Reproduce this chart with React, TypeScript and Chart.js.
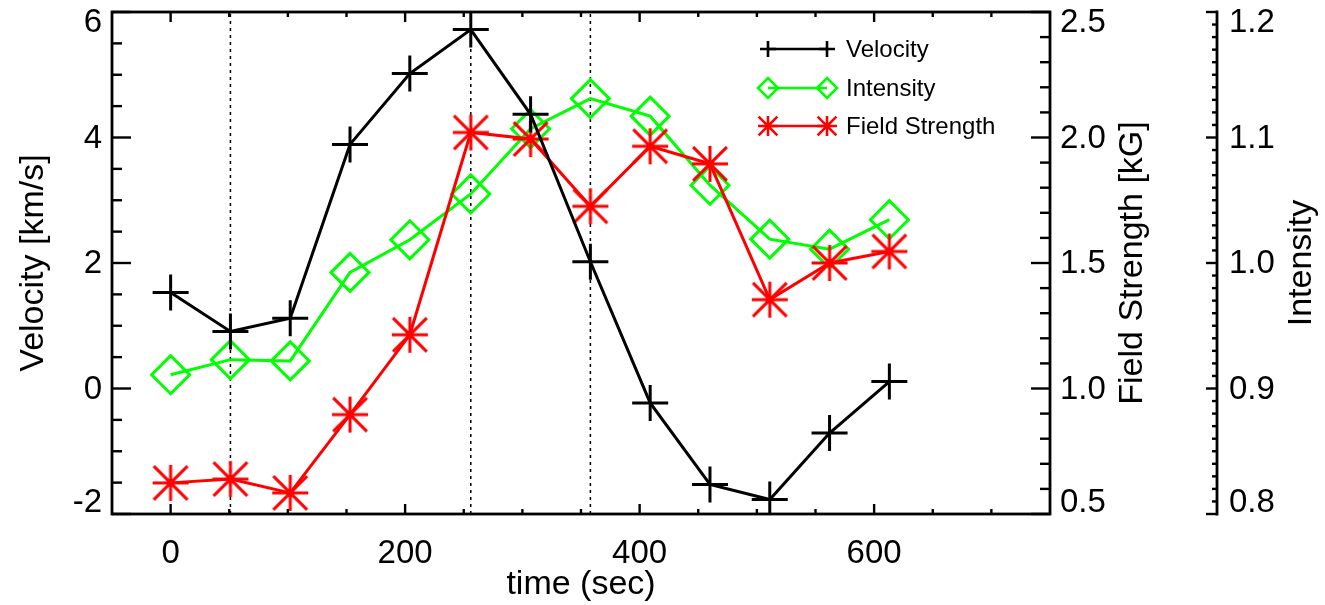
import React, { useEffect, useRef } from 'react';
import { Chart, registerables } from 'chart.js';

Chart.register(...registerables);

// ---------------- data ----------------
const times = [0, 51, 102, 153, 204, 256, 307, 358, 409, 460, 511, 562, 613];
const velocity = [1.53, 0.91, 1.12, 3.89, 5.02, 5.72, 4.37, 2.02, -0.23, -1.53, -1.77, -0.71, 0.11];
const intensity = [0.911, 0.923, 0.922, 0.9925, 1.0185, 1.055, 1.107, 1.131, 1.117, 1.062, 1.019, 1.011, 1.0345];
const fieldStrength = [0.624, 0.639, 0.584, 0.896, 1.214, 2.02, 1.994, 1.726, 1.965, 1.895, 1.354, 1.5, 1.546];
const markerTimes = [51, 256, 358];

// ---------------- ticks ----------------
const xTickLabels = [0, 200, 400, 600];
const xMinorTicks = [0, 50, 100, 150, 200, 250, 300, 350, 400, 450, 500, 550, 600, 650, 700];
const velocityTickLabels = [-2, 0, 2, 4, 6];
const velocityMinorTicks = [-1.5, -1, -0.5, 0.5, 1, 1.5, 2.5, 3, 3.5, 4.5, 5, 5.5];
const fieldTickLabels = [0.5, 1.0, 1.5, 2.0, 2.5];
const fieldMinorTicks = [0.6, 0.7, 0.8, 0.9, 1.1, 1.2, 1.3, 1.4, 1.6, 1.7, 1.8, 1.9, 2.1, 2.2, 2.3, 2.4];
const intensityTickLabels = [0.8, 0.9, 1.0, 1.1, 1.2];
const intensityMinorTicks = [
  0.81, 0.82, 0.83, 0.84, 0.85, 0.86, 0.87, 0.88, 0.89,
  0.91, 0.92, 0.93, 0.94, 0.95, 0.96, 0.97, 0.98, 0.99,
  1.01, 1.02, 1.03, 1.04, 1.05, 1.06, 1.07, 1.08, 1.09,
  1.11, 1.12, 1.13, 1.14, 1.15, 1.16, 1.17, 1.18, 1.19,
];

const legendItems = [
  { label: 'Velocity', color: '#000000', marker: 'cross' },
  { label: 'Intensity', color: '#00ff00', marker: 'diamond' },
  { label: 'Field Strength', color: '#ff0000', marker: 'asterisk' },
];

const FONT = "'Liberation Sans', Arial, Helvetica, sans-serif";
const RED = '#ff0000';
const GREEN = '#00ff00';
const BLACK = '#000000';
const LW = 3;

function drawAsterisk(ctx: CanvasRenderingContext2D, x: number, y: number, r: number, color: string, lw: number) {
  const d = r * 0.94;
  ctx.save();
  ctx.strokeStyle = color;
  ctx.lineWidth = lw;
  ctx.beginPath();
  ctx.moveTo(x - r, y); ctx.lineTo(x + r, y);
  ctx.moveTo(x, y - r); ctx.lineTo(x, y + r);
  ctx.moveTo(x - d, y - d); ctx.lineTo(x + d, y + d);
  ctx.moveTo(x + d, y - d); ctx.lineTo(x - d, y + d);
  ctx.stroke();
  ctx.restore();
}
function drawCross(ctx: CanvasRenderingContext2D, x: number, y: number, r: number, color: string, lw: number) {
  ctx.save();
  ctx.strokeStyle = color;
  ctx.lineWidth = lw;
  ctx.beginPath();
  ctx.moveTo(x - r, y); ctx.lineTo(x + r, y);
  ctx.moveTo(x, y - r); ctx.lineTo(x, y + r);
  ctx.stroke();
  ctx.restore();
}
function drawDiamond(ctx: CanvasRenderingContext2D, x: number, y: number, r: number, color: string, lw: number) {
  ctx.save();
  ctx.strokeStyle = color;
  ctx.lineWidth = lw;
  ctx.beginPath();
  ctx.moveTo(x - r, y); ctx.lineTo(x, y - r); ctx.lineTo(x + r, y); ctx.lineTo(x, y + r);
  ctx.closePath();
  ctx.stroke();
  ctx.restore();
}

function makeAsteriskImage(): HTMLCanvasElement {
  const c = document.createElement('canvas');
  c.width = 40; c.height = 40;
  const ctx = c.getContext('2d')!;
  drawAsterisk(ctx, 20, 20, 18, RED, LW);
  return c;
}

const idlAxesPlugin = {
  id: 'idlAxes',
  afterDraw(chart: any) {
    const ctx: CanvasRenderingContext2D = chart.ctx;
    const { left, right, top, bottom } = chart.chartArea;
    const xs = chart.scales.x;
    const ys = chart.scales.y;
    const fs = chart.scales.yFS;
    const is = chart.scales.yI;
    const line = (x1: number, y1: number, x2: number, y2: number) => {
      ctx.beginPath(); ctx.moveTo(x1, y1); ctx.lineTo(x2, y2); ctx.stroke();
    };
    ctx.save();
    ctx.strokeStyle = BLACK;
    ctx.lineWidth = 2.8;
    ctx.strokeRect(left, top, right - left, bottom - top);
    // intensity axis line
    line(is.left, top - 1.4, is.left, bottom + 1.4);

    ctx.lineWidth = 2.4;
    // x ticks bottom & top
    xMinorTicks.forEach((v) => {
      const px = xs.getPixelForValue(v);
      const len = xTickLabels.includes(v) ? 10 : 5;
      line(px, bottom, px, bottom - len);
      line(px, top, px, top + len);
    });
    // velocity ticks (left)
    [...velocityTickLabels, ...velocityMinorTicks].forEach((v) => {
      const py = ys.getPixelForValue(v);
      const len = velocityTickLabels.includes(v) ? 19 : 10;
      line(left, py, left + len, py);
    });
    // field strength ticks (right of plot, pointing in)
    [...fieldTickLabels, ...fieldMinorTicks].forEach((v) => {
      const py = fs.getPixelForValue(v);
      const len = fieldTickLabels.includes(v) ? 19 : 10;
      line(right, py, right - len, py);
    });
    // intensity ticks (pointing left)
    [...intensityTickLabels, ...intensityMinorTicks].forEach((v) => {
      const py = is.getPixelForValue(v);
      const len = intensityTickLabels.includes(v) ? 11 : 5;
      line(is.left, py, is.left - len, py);
    });

    // vertical-axis tick labels (edge labels kept inside the frame)
    ctx.fillStyle = BLACK;
    ctx.font = `33px ${FONT}`;
    ctx.textBaseline = 'middle';
    const labelY = (py: number) => Math.min(Math.max(py + 1, top + 11), bottom - 11);
    ctx.textAlign = 'right';
    velocityTickLabels.forEach((v) => {
      ctx.fillText(String(v), left - 10, labelY(ys.getPixelForValue(v)));
    });
    ctx.textAlign = 'left';
    fieldTickLabels.forEach((v) => {
      ctx.fillText(v.toFixed(1), fs.left + 10, labelY(fs.getPixelForValue(v)));
    });
    intensityTickLabels.forEach((v) => {
      ctx.fillText(v.toFixed(1), is.left + 12, labelY(is.getPixelForValue(v)));
    });

    // right axis titles (rotated like the left one)
    ctx.font = `34px ${FONT}`;
    ctx.textAlign = 'center';
    ctx.textBaseline = 'middle';
    const midY = (top + bottom) / 2;
    ctx.save();
    ctx.translate(fs.left + 83, midY);
    ctx.rotate(-Math.PI / 2);
    ctx.fillText('Field Strength [kG]', 0, 0);
    ctx.restore();
    ctx.save();
    ctx.translate(is.left + 85, midY);
    ctx.rotate(-Math.PI / 2);
    ctx.fillText('Intensity', 0, 0);
    ctx.restore();

    // legend
    const lx1 = 768, lx2 = 827, textX = 846;
    const rows = [49, 88, 126];
    ctx.font = `24px ${FONT}`;
    ctx.textAlign = 'left';
    legendItems.forEach((item, i) => {
      const y = rows[i];
      ctx.strokeStyle = item.color;
      ctx.lineWidth = 2.6;
      line(lx1, y, lx2, y);
      [lx1, lx2].forEach((mx) => {
        if (item.marker === 'cross') drawCross(ctx, mx, y, 8, item.color, 2.6);
        else if (item.marker === 'diamond') drawDiamond(ctx, mx, y, 10, item.color, 2.6);
        else drawAsterisk(ctx, mx, y, 10, item.color, 2.6);
      });
      ctx.fillStyle = BLACK;
      ctx.fillText(item.label, textX, y + 1);
    });
    ctx.restore();
  },
};

export default function App() {
  const canvasRef = useRef<HTMLCanvasElement | null>(null);

  useEffect(() => {
    if (!canvasRef.current) return;
    const asterisk = makeAsteriskImage();
    const toXY = (arr: number[]) => times.map((t, i) => ({ x: t, y: arr[i] }));

    const markerDatasets = markerTimes.map((t) => ({
      type: 'line' as const,
      label: 'marker',
      data: [{ x: t, y: velocityTickLabels[0] }, { x: t, y: velocityTickLabels[velocityTickLabels.length - 1] }],
      yAxisID: 'y',
      borderColor: BLACK,
      borderWidth: 1.5,
      borderDash: [3, 4],
      pointRadius: 0,
      order: 10,
    }));

    const tickFont = { family: FONT, size: 33 };

    const chart = new Chart(canvasRef.current, {
      type: 'line',
      data: {
        datasets: [
          {
            label: 'Velocity',
            data: toXY(velocity),
            yAxisID: 'y',
            borderColor: BLACK,
            backgroundColor: 'transparent',
            borderWidth: LW,
            pointStyle: 'cross',
            pointRadius: 18,
            pointBorderWidth: LW,
            pointBorderColor: BLACK,
            tension: 0,
            order: 1,
          },
          {
            label: 'Field Strength',
            data: toXY(fieldStrength),
            yAxisID: 'yFS',
            borderColor: RED,
            backgroundColor: 'transparent',
            borderWidth: LW,
            pointStyle: asterisk as any,
            pointRadius: 18,
            tension: 0,
            order: 2,
          },
          {
            label: 'Intensity',
            data: toXY(intensity),
            yAxisID: 'yI',
            borderColor: GREEN,
            backgroundColor: 'transparent',
            borderWidth: LW,
            pointStyle: 'rectRot',
            pointRadius: 19,
            pointBorderWidth: LW,
            pointBorderColor: GREEN,
            pointBackgroundColor: 'transparent',
            tension: 0,
            order: 3,
          },
          ...markerDatasets,
        ] as any,
      },
      options: {
        responsive: false,
        animation: false,
        events: [],
        layout: { autoPadding: false, padding: { top: 12, left: 0, right: 0, bottom: 0 } },
        plugins: { legend: { display: false }, tooltip: { enabled: false } },
        scales: {
          x: {
            type: 'linear',
            position: 'bottom',
            min: -50,
            max: 750,
            grid: { display: false },
            border: { display: false },
            ticks: { font: tickFont, color: BLACK, padding: 12, maxRotation: 0, autoSkip: false },
            title: { display: true, text: 'time (sec)', color: BLACK, font: { family: FONT, size: 34 }, padding: { top: 0, bottom: 0 } },
            afterBuildTicks: (s: any) => { s.ticks = xTickLabels.map((v) => ({ value: v })); },
            afterFit: (s: any) => { s.height = 91; s.paddingLeft = 0; s.paddingRight = 0; },
          },
          y: {
            type: 'linear',
            position: 'left',
            min: -2,
            max: 6,
            grid: { display: false },
            border: { display: false },
            ticks: { display: false },
            title: { display: true, text: 'Velocity [km/s]', color: BLACK, font: { family: FONT, size: 34 }, padding: { top: 13, bottom: 0 } },
            afterBuildTicks: (s: any) => { s.ticks = velocityTickLabels.map((v) => ({ value: v })); },
            afterFit: (s: any) => { s.width = 112; s.paddingTop = 0; s.paddingBottom = 0; },
          },
          yFS: {
            type: 'linear',
            position: 'right',
            weight: 0,
            min: 0.5,
            max: 2.5,
            grid: { display: false, drawOnChartArea: false },
            border: { display: false },
            ticks: { display: false },
            afterBuildTicks: (s: any) => { s.ticks = fieldTickLabels.map((v) => ({ value: v })); },
            afterFit: (s: any) => { s.width = 167; s.paddingTop = 0; s.paddingBottom = 0; },
          },
          yI: {
            type: 'linear',
            position: 'right',
            weight: 1,
            min: 0.8,
            max: 1.2,
            grid: { display: false, drawOnChartArea: false },
            border: { display: false },
            ticks: { display: false },
            afterBuildTicks: (s: any) => { s.ticks = intensityTickLabels.map((v) => ({ value: v })); },
            afterFit: (s: any) => { s.width = 108; s.paddingTop = 0; s.paddingBottom = 0; },
          },
        },
      } as any,
      plugins: [idlAxesPlugin],
    });
    return () => chart.destroy();
  }, []);

  return (
    <div style={{ position: 'absolute', left: 0, top: 0, width: 1325, height: 605, background: '#ffffff' }}>
      <canvas ref={canvasRef} width={1325} height={605} style={{ display: 'block' }} />
    </div>
  );
}
